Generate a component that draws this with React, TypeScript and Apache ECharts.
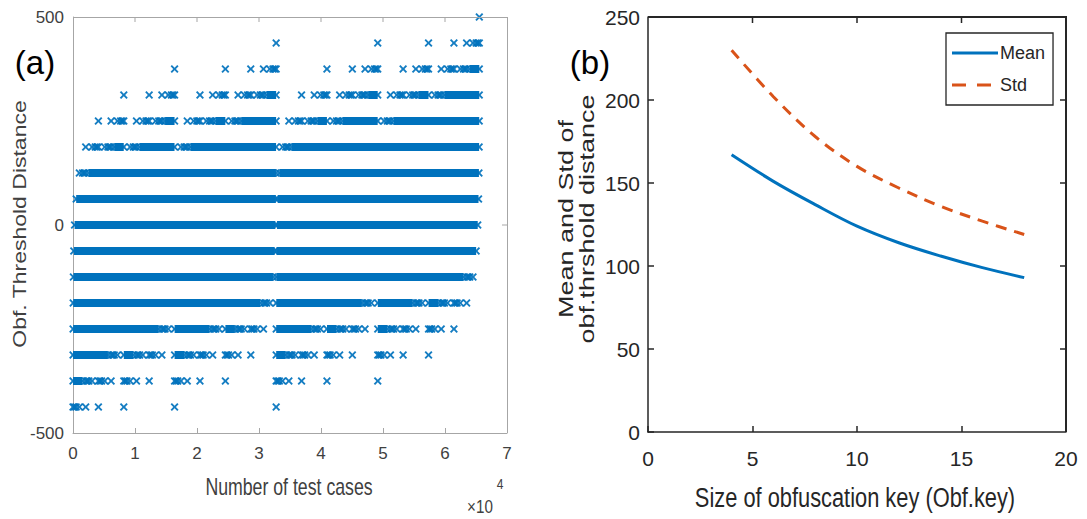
import React, { useEffect, useRef } from "react";
import * as echarts from "echarts";

// ---------- Panel (a): obfuscation threshold distance per test case ----------
const thresholdLevels = [-437.5, -375, -312.5, -250, -187.5, -125, -62.5, 0, 62.5, 125, 187.5, 250, 312.5, 375, 437.5, 500];
const xTicksA = [0, 10000, 20000, 30000, 40000, 50000, 60000, 70000];
const yTicksA = [-500, 0, 500];

// dense runs of points on each level: [first test case, last test case]
const rowBands: number[][][] = [
  [],
  [[3, 1536]],
  [[7, 5632], [8195, 9728], [16387, 17920], [32771, 34304]],
  [[15, 13824], [16391, 22016], [24579, 26112], [32775, 38400], [40963, 42496], [49155, 50688]],
  [[31, 30208], [32783, 46592], [49159, 54784], [57347, 58880]],
  [[63, 32256], [32799, 62976]],
  [[127, 32512], [32831, 65024]],
  [[255, 32640], [32895, 65280]],
  [[511, 32704], [33023, 65408]],
  [[2559, 32736], [33279, 65472]],
  [[6655, 8188], [10751, 16376], [18943, 32752], [35327, 65504]],
  [[14847, 16380], [23039, 24572], [27135, 32760], [39423, 40956], [43519, 49144], [51711, 65520]],
  [[31231, 32764], [47615, 49148], [55807, 57340], [59903, 65528]],
  [[63999, 65532]],
  [],
  [],
];

// isolated points on each level (test case index)
const rowMarks: number[][] = [
  [1, 256, 512, 1024, 2048, 4096, 8192, 16384, 32768],
  [2049, 2304, 2560, 3072, 4097, 4352, 4608, 5120, 6144, 8193, 8448, 8704, 9216, 10240, 12288, 16385, 16640, 16896, 17408, 18432, 20480, 24576, 32769, 33024, 33280, 33792, 34816, 36864, 40960, 49152],
  [6145, 6400, 6656, 7168, 10241, 10496, 10752, 11264, 12289, 12544, 12800, 13312, 14336, 18433, 18688, 18944, 19456, 20481, 20736, 20992, 21504, 22528, 24577, 24832, 25088, 25600, 26624, 28672, 34817, 35072, 35328, 35840, 36865, 37120, 37376, 37888, 38912, 40961, 41216, 41472, 41984, 43008, 45056, 49153, 49408, 49664, 50176, 51200, 53248, 57344],
  [14337, 14592, 14848, 15360, 22529, 22784, 23040, 23552, 26625, 26880, 27136, 27648, 28673, 28928, 29184, 29696, 30720, 38913, 39168, 39424, 39936, 43009, 43264, 43520, 44032, 45057, 45312, 45568, 46080, 47104, 51201, 51456, 51712, 52224, 53249, 53504, 53760, 54272, 55296, 57345, 57600, 57856, 58368, 59392, 61440],
  [30721, 30976, 31232, 31744, 47105, 47360, 47616, 48128, 55297, 55552, 55808, 56320, 59393, 59648, 59904, 60416, 61441, 61696, 61952, 62464, 63488],
  [63489, 63744, 64000, 64512],
  [],
  [],
  [],
  [1023, 1535, 1791, 2046],
  [2047, 3071, 3583, 3839, 4094, 5119, 5631, 5887, 6142, 9215, 9727, 9983, 10238, 17407, 17919, 18175, 18430, 33791, 34303, 34559, 34814],
  [4095, 6143, 7167, 7679, 7935, 8190, 10239, 11263, 11775, 12031, 12286, 13311, 13823, 14079, 14334, 18431, 19455, 19967, 20223, 20478, 21503, 22015, 22271, 22526, 25599, 26111, 26367, 26622, 34815, 35839, 36351, 36607, 36862, 37887, 38399, 38655, 38910, 41983, 42495, 42751, 43006, 50175, 50687, 50943, 51198],
  [8191, 12287, 14335, 15359, 15871, 16127, 16382, 20479, 22527, 23551, 24063, 24319, 24574, 26623, 27647, 28159, 28415, 28670, 29695, 30207, 30463, 30718, 36863, 38911, 39935, 40447, 40703, 40958, 43007, 44031, 44543, 44799, 45054, 46079, 46591, 46847, 47102, 51199, 52223, 52735, 52991, 53246, 54271, 54783, 55039, 55294, 58367, 58879, 59135, 59390],
  [16383, 24575, 28671, 30719, 31743, 32255, 32511, 32766, 40959, 45055, 47103, 48127, 48639, 48895, 49150, 53247, 55295, 56319, 56831, 57087, 57342, 59391, 60415, 60927, 61183, 61438, 62463, 62975, 63231, 63486],
  [32767, 49151, 57343, 61439, 63487, 64511, 65023, 65279, 65534],
  [65535],
];

// ---------- Panel (b): mean / std vs key size ----------
const keySizes = [4, 6, 8, 10, 12, 14, 16, 18];
const meanDistance = [167, 151, 137, 124, 114, 106, 99, 93];
const stdDistance = [230, 202, 178, 160, 147, 136, 127, 119];
const legendNames = ["Mean", "Std"];
const xTicksB = [0, 5, 10, 15, 20];
const yTicksB = [0, 50, 100, 150, 200, 250];

const BLUE = "#0072BD";
const ORANGE = "#D95319";
const SANS = "'Liberation Sans', Arial, sans-serif";
const GRAY_AXIS = "#a6a6a6";
const DARK_AXIS = "#262626";
const X_SYMBOL = "path://M0,1.7L1.7,0L5,3.3L8.3,0L10,1.7L6.7,5L10,8.3L8.3,10L5,6.7L1.7,10L0,8.3L3.3,5Z";
const SOLID_ICON = "path://M0,0h46v3h-46z";
const DASH_ICON = "path://M0,0h14v3h-14zM25,0h14v3h-14zM46,0h0.01v3h-0.01z";

// plot-area layout (pixels)
const GRID_A = { left: 73, top: 17, width: 434, height: 416 };
const GRID_B = { left: 648, top: 17, width: 418, height: 415 };

function axisLine(color: string, width: number) {
  return { show: true, onZero: false, lineStyle: { color, width } };
}
function axisTick(color: string, width: number, length: number) {
  return { show: true, inside: true, length, lineStyle: { color, width } };
}

const textGraphics: any[] = [
  { type: "text", x: 35, y: 62, style: { text: "(a)", fontFamily: SANS, fontSize: 33, fill: "#000", align: "center", verticalAlign: "middle" } },
  { type: "text", x: 590, y: 62, style: { text: "(b)", fontFamily: SANS, fontSize: 33, fill: "#000", align: "center", verticalAlign: "middle" } },
  { type: "text", x: 19, y: 224, rotation: Math.PI / 2, scaleY: 0.78, style: { text: "Obf. Threshold Distance", fontFamily: SANS, fontSize: 23, fill: "#404040", align: "center", verticalAlign: "middle" } },
  { type: "text", x: 289, y: 487, scaleX: 0.77, style: { text: "Number of test cases", fontFamily: SANS, fontSize: 23, fill: "#404040", align: "center", verticalAlign: "middle" } },
  { type: "text", x: 480, y: 506, scaleX: 0.8, style: { text: "×10", fontFamily: SANS, fontSize: 19, fill: "#404040", align: "center", verticalAlign: "middle" } },
  { type: "text", x: 500, y: 484, scaleX: 0.8, style: { text: "4", fontFamily: SANS, fontSize: 15, fill: "#404040", align: "center", verticalAlign: "middle" } },
  { type: "text", x: 566, y: 219, rotation: Math.PI / 2, scaleY: 0.72, style: { text: "Mean and Std of", fontFamily: SANS, fontSize: 27, fill: "#262626", align: "center", verticalAlign: "middle" } },
  { type: "text", x: 587, y: 219, rotation: Math.PI / 2, scaleY: 0.72, style: { text: "obf.thrshold distance", fontFamily: SANS, fontSize: 27, fill: "#262626", align: "center", verticalAlign: "middle" } },
  { type: "text", x: 855, y: 497, scaleX: 0.78, style: { text: "Size of obfuscation key (Obf.key)", fontFamily: SANS, fontSize: 28, fill: "#262626", align: "center", verticalAlign: "middle" } },
];

function buildOption() {
  const bandData: number[][] = [];
  const markData: number[][] = [];
  rowBands.forEach((bands, i) => {
    bands.forEach(([a, b]) => {
      bandData.push([a, b, thresholdLevels[i]]);
      markData.push([a, thresholdLevels[i]]);
      markData.push([b, thresholdLevels[i]]);
    });
  });
  rowMarks.forEach((marks, i) => {
    marks.forEach((x) => markData.push([x, thresholdLevels[i]]));
  });

  return {
    animation: false,
    backgroundColor: "#ffffff",
    grid: [
      { ...GRID_A, containLabel: false },
      { ...GRID_B, containLabel: false },
    ],
    legend: {
      data: [
        { name: legendNames[0], icon: SOLID_ICON },
        { name: legendNames[1], icon: DASH_ICON },
      ],
      orient: "vertical",
      left: 946,
      top: 33,
      padding: [11, 8, 11, 6],
      itemWidth: 46,
      itemHeight: 3,
      itemGap: 14,
      borderColor: DARK_AXIS,
      borderWidth: 1.3,
      backgroundColor: "#ffffff",
      textStyle: { fontFamily: SANS, fontSize: 18, color: DARK_AXIS, padding: [0, 0, 0, -3] },
    },
    xAxis: [
      {
        gridIndex: 0, type: "value", min: xTicksA[0], max: xTicksA[xTicksA.length - 1], interval: 10000, position: "bottom",
        axisLine: axisLine(GRAY_AXIS, 1), axisTick: axisTick(GRAY_AXIS, 1, 5),
        axisLabel: { color: "#404040", fontFamily: SANS, fontSize: 17, margin: 12, formatter: (v: number) => String(v / 10000) },
        splitLine: { show: false },
      },
      {
        gridIndex: 1, type: "value", min: xTicksB[0], max: xTicksB[xTicksB.length - 1], interval: 5, position: "bottom",
        axisLine: axisLine(DARK_AXIS, 1.5), axisTick: axisTick(DARK_AXIS, 1.5, 6),
        axisLabel: { color: DARK_AXIS, fontFamily: SANS, fontSize: 21, margin: 16 },
        splitLine: { show: false },
      },
    ],
    yAxis: [
      {
        gridIndex: 0, type: "value", min: yTicksA[0], max: yTicksA[yTicksA.length - 1], interval: 500, position: "left",
        axisLine: axisLine(GRAY_AXIS, 1), axisTick: axisTick(GRAY_AXIS, 1, 5),
        axisLabel: { color: "#404040", fontFamily: SANS, fontSize: 17, margin: 9 },
        splitLine: { show: false },
      },
      {
        gridIndex: 1, type: "value", min: yTicksB[0], max: yTicksB[yTicksB.length - 1], interval: 50, position: "left",
        axisLine: axisLine(DARK_AXIS, 1.5), axisTick: axisTick(DARK_AXIS, 1.5, 6),
        axisLabel: { color: DARK_AXIS, fontFamily: SANS, fontSize: 21, margin: 8 },
        splitLine: { show: false },
      },
    ],
    series: [
      {
        type: "custom",
        name: "bands",
        xAxisIndex: 0,
        yAxisIndex: 0,
        dimensions: ["x0", "x1", "y"],
        encode: { x: [0, 1], y: 2 },
        data: bandData,
        renderItem: (params: any, api: any) => {
          const s = api.coord([api.value(0), api.value(2)]);
          const e = api.coord([api.value(1), api.value(2)]);
          return {
            type: "rect",
            shape: { x: s[0], y: s[1] - 4, width: Math.max(e[0] - s[0], 0), height: 8 },
            style: { fill: BLUE },
          };
        },
        silent: true,
      },
      {
        type: "scatter",
        name: "points",
        xAxisIndex: 0,
        yAxisIndex: 0,
        symbol: X_SYMBOL,
        symbolSize: 8,
        itemStyle: { color: BLUE, opacity: 0.92 },
        data: markData,
        silent: true,
      },
      {
        type: "line",
        name: legendNames[0],
        xAxisIndex: 1,
        yAxisIndex: 1,
        data: keySizes.map((k, i) => [k, meanDistance[i]]),
        smooth: 0.35,
        symbol: "none",
        lineStyle: { color: BLUE, width: 3 },
        itemStyle: { color: BLUE },
      },
      {
        type: "line",
        name: legendNames[1],
        xAxisIndex: 1,
        yAxisIndex: 1,
        data: keySizes.map((k, i) => [k, stdDistance[i]]),
        smooth: 0.35,
        symbol: "none",
        lineStyle: { color: ORANGE, width: 3, type: [11, 8] },
        itemStyle: { color: ORANGE },
      },
    ],
    graphic: textGraphics,
  };
}

// inward ticks on the top and right edges, placed through the chart's own axes
function edgeTicks(chart: any, axisIdx: number, xTicks: number[], yTicks: number[], color: string, w: number, tickLen: number) {
  const els: any[] = [];
  const finder = { xAxisIndex: axisIdx, yAxisIndex: axisIdx };
  const corner = chart.convertToPixel(finder, [xTicks[xTicks.length - 1], yTicks[yTicks.length - 1]]);
  if (!corner || !isFinite(corner[0]) || !isFinite(corner[1])) return els;
  const right = corner[0];
  const top = corner[1];
  xTicks.slice(1, -1).forEach((v) => {
    const p = chart.convertToPixel(finder, [v, yTicks[yTicks.length - 1]]);
    els.push({ type: "rect", silent: true, z: 100, shape: { x: p[0] - w / 2, y: top, width: w, height: tickLen }, style: { fill: color } });
  });
  yTicks.slice(1, -1).forEach((v) => {
    const p = chart.convertToPixel(finder, [xTicks[xTicks.length - 1], v]);
    els.push({ type: "rect", silent: true, z: 100, shape: { x: right - tickLen, y: p[1] - w / 2, width: tickLen, height: w }, style: { fill: color } });
  });
  return els;
}

function FrameEdge({ g, color, w }: { g: { left: number; top: number; width: number; height: number }; color: string; w: number }) {
  return (
    <div
      style={{
        position: "absolute",
        left: g.left,
        top: g.top - Math.floor(w / 2),
        width: g.width + Math.ceil(w / 2),
        height: g.height + Math.floor(w / 2),
        borderTop: `${w}px solid ${color}`,
        borderRight: `${w}px solid ${color}`,
        boxSizing: "border-box",
        pointerEvents: "none",
      }}
    />
  );
}

export default function App() {
  const ref = useRef<HTMLDivElement>(null);
  useEffect(() => {
    if (!ref.current) return;
    const chart = echarts.init(ref.current, undefined, { renderer: "svg" });
    chart.setOption(buildOption() as any);
    try {
      const ticks = [
        ...edgeTicks(chart, 0, xTicksA, yTicksA, GRAY_AXIS, 1, 5),
        ...edgeTicks(chart, 1, xTicksB, yTicksB, DARK_AXIS, 1.5, 6),
      ];
      if (ticks.length) chart.setOption({ graphic: [...textGraphics, ...ticks] } as any);
    } catch (e) {
      // keep the chart without the extra edge ticks
    }
    return () => chart.dispose();
  }, []);
  return (
    <div style={{ position: "absolute", left: 0, top: 0, width: 1087, height: 519, background: "#fff" }}>
      <div ref={ref} style={{ position: "absolute", left: 0, top: 0, width: 1087, height: 519 }} />
      <FrameEdge g={GRID_A} color={GRAY_AXIS} w={1} />
      <FrameEdge g={GRID_B} color={DARK_AXIS} w={2} />
    </div>
  );
}
